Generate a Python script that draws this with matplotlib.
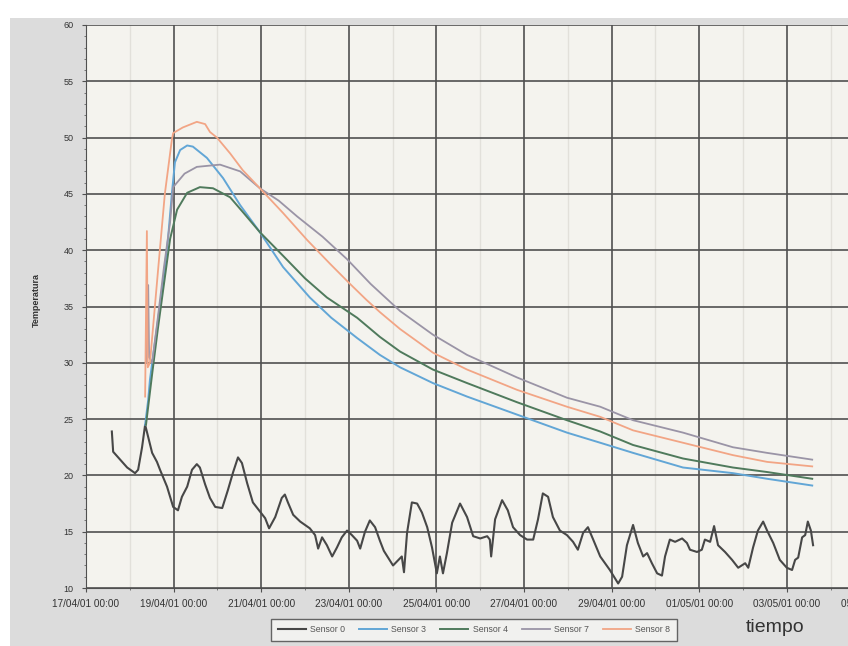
import pandas as pd
import matplotlib
matplotlib.use("Agg")
import matplotlib.pyplot as plt
import matplotlib.dates as mdates
from matplotlib.patches import Rectangle
from matplotlib.ticker import MultipleLocator

plt.rcParams['font.family'] = ['Liberation Sans', 'DejaVu Sans']

START = pd.Timestamp("2001-04-17 00:00")

# days since 17/04/01 00:00, temperature
s0_days = [0.59, 0.62, 0.78, 0.94, 1.12, 1.19, 1.28, 1.35, 1.42, 1.51, 1.62, 1.69, 1.85, 1.99,
           2.10, 2.19, 2.31, 2.42, 2.53, 2.60, 2.72, 2.83, 2.95, 3.11, 3.24, 3.36, 3.47, 3.56,
           3.68, 3.81, 3.97, 4.09, 4.18, 4.32, 4.47, 4.54, 4.61, 4.73, 4.89, 5.00, 5.11, 5.23,
           5.30, 5.39, 5.50, 5.62, 5.73, 5.84, 5.96, 6.07, 6.19, 6.26, 6.37, 6.48, 6.60, 6.71,
           6.80, 7.01, 7.21, 7.26, 7.33, 7.44, 7.56, 7.67, 7.79, 7.90, 8.01, 8.08, 8.15, 8.24,
           8.36, 8.54, 8.70, 8.84, 9.00, 9.16, 9.22, 9.25, 9.34, 9.50, 9.63, 9.75, 9.91, 10.07,
           10.21, 10.32, 10.43, 10.55, 10.66, 10.82, 10.98, 11.12, 11.23, 11.35, 11.46, 11.58,
           11.74, 11.96, 12.15, 12.24, 12.35, 12.49, 12.60, 12.72, 12.81, 12.92, 13.04, 13.15,
           13.22, 13.33, 13.45, 13.61, 13.72, 13.79, 13.95, 14.06, 14.13, 14.25, 14.34, 14.43,
           14.59, 14.75, 14.89, 15.05, 15.12, 15.23, 15.34, 15.46, 15.55, 15.69, 15.84, 16.00,
           16.12, 16.19, 16.26, 16.35, 16.42, 16.48, 16.55, 16.60]
s0_temp = [23.9, 22.1, 21.4, 20.7, 20.2, 20.5, 22.5, 24.5, 23.4, 22.0, 21.2, 20.5, 19.0, 17.2,
           16.9, 18.1, 19.0, 20.5, 21.0, 20.7, 19.2, 18.0, 17.2, 17.1, 18.7, 20.3, 21.6, 21.1,
           19.3, 17.6, 16.8, 16.2, 15.3, 16.3, 18.0, 18.3, 17.6, 16.5, 15.9, 15.6, 15.3, 14.7,
           13.5, 14.5, 13.8, 12.8, 13.6, 14.5, 15.1, 14.7, 14.2, 13.5, 15.0, 16.0, 15.4, 14.2,
           13.3, 12.0, 12.8, 11.4, 14.9, 17.6, 17.5, 16.7, 15.4, 13.6, 11.3, 12.8, 11.3, 13.1,
           15.8, 17.5, 16.3, 14.6, 14.4, 14.6, 14.3, 12.8, 16.1, 17.8, 16.9, 15.4, 14.7, 14.3,
           14.3, 16.1, 18.4, 18.1, 16.3, 15.1, 14.7, 14.1, 13.4, 14.9, 15.4, 14.3,
           12.8, 11.6, 10.4, 11.0, 13.8, 15.6, 14.0, 12.8, 13.1, 12.2, 11.3, 11.1,
           12.8, 14.3, 14.1, 14.4, 14.0, 13.4, 13.2, 13.4, 14.3, 14.1, 15.5, 13.8,
           13.2, 12.5, 11.8, 12.2, 11.8, 13.6, 15.1, 15.9, 15.1, 14.0, 12.5, 11.8,
           11.6, 12.5, 12.7, 14.5, 14.7, 15.9, 15.1, 13.8]

s3_days = [1.35, 1.42, 1.46, 1.58, 1.74, 1.87, 1.96, 2.03, 2.15, 2.31, 2.44, 2.76, 3.13, 3.52,
           3.97, 4.50, 5.11, 5.60, 6.19, 6.71, 7.17, 7.92, 8.70, 9.84, 10.98, 11.74, 12.49,
           13.63, 14.77, 15.55, 16.58]
s3_temp = [24.5, 26.7, 28.5, 32.0, 36.5, 40.9, 45.0, 47.8, 48.9, 49.3, 49.2, 48.2, 46.4, 44.0,
           41.6, 38.5, 35.8, 34.0, 32.2, 30.7, 29.6, 28.2, 27.0, 25.4, 23.8, 22.9, 22.0,
           20.7, 20.2, 19.7, 19.1]

s4_days = [1.37, 1.51, 1.64, 1.78, 1.92, 2.08, 2.31, 2.60, 2.90, 3.29, 3.60, 3.97, 4.50, 5.00,
           5.50, 6.19, 6.71, 7.17, 7.92, 8.70, 9.84, 10.98, 11.74, 12.49, 13.63, 14.77, 15.55,
           16.58]
s4_temp = [24.5, 29.0, 33.0, 37.0, 41.0, 43.6, 45.1, 45.6, 45.5, 44.7, 43.3, 41.6, 39.5, 37.5,
           35.8, 34.0, 32.3, 31.0, 29.4, 28.2, 26.5, 24.9, 23.9, 22.7, 21.5, 20.7, 20.3,
           19.7]

s7_days = [1.37, 1.42, 1.44, 1.51, 1.64, 1.78, 1.92, 1.99, 2.25, 2.53, 3.06, 3.52, 3.97, 4.40,
           4.82, 5.40, 5.96, 6.50, 7.17, 7.92, 8.70, 9.84, 10.98, 11.74, 12.49, 13.63, 14.77,
           15.55, 16.58]
s7_temp = [30.0, 36.9, 30.5, 30.0, 34.0, 38.5, 42.5, 45.6, 46.8, 47.4, 47.6, 47.0, 45.5, 44.4,
           43.0, 41.2, 39.2, 37.0, 34.6, 32.5, 30.7, 28.7, 26.9, 26.1, 24.9, 23.8, 22.5,
           22.0, 21.4]

s8_days = [1.35, 1.39, 1.41, 1.46, 1.64, 1.80, 1.96, 1.99, 2.21, 2.53, 2.72, 2.83, 2.99, 3.29,
           3.58, 3.97, 4.50, 5.05, 5.57, 6.03, 6.40, 6.71, 7.17, 7.92, 8.70, 9.84, 10.98, 11.74,
           12.49, 13.63, 14.77, 15.55, 16.58]
s8_temp = [27.0, 41.7, 29.6, 30.0, 38.0, 45.0, 49.8, 50.4, 50.9, 51.4, 51.2, 50.5, 50.0, 48.6,
           47.1, 45.5, 43.3, 40.9, 38.8, 37.0, 35.6, 34.5, 33.0, 30.9, 29.4, 27.6, 26.1, 25.2,
           24.0, 22.9, 21.8, 21.2, 20.8]

labels = ["Sensor 0", "Sensor 3", "Sensor 4", "Sensor 7", "Sensor 8"]
colors = ["#474747", "#62a6d6", "#4f7a5c", "#9a94a6", "#f2a585"]


def to_dates(days):
    return START + pd.to_timedelta(days, unit="D")


W, H = 848, 646
fig = plt.figure(figsize=(W / 100, H / 100), dpi=100, facecolor="white")
fig.patches.append(Rectangle((10 / W, 0), 1, 1 - 18 / H, transform=fig.transFigure,
                             facecolor="#dcdcdc", edgecolor="none", zorder=-10))

left, top, bottom = 86 / W, 1 - 25 / H, 1 - 588 / H
px_per_day = 43.8
xmax = 18.5
ax = fig.add_axes([left, bottom, xmax * px_per_day / W, top - bottom])
ax.set_facecolor("#f4f3ee")

series = [(s0_days, s0_temp), (s3_days, s3_temp), (s4_days, s4_temp),
          (s7_days, s7_temp), (s8_days, s8_temp)]
widths = [1.5, 1.4, 1.4, 1.3, 1.3]
for (d, t), lab, c, lw in zip(series, labels, colors, widths):
    ax.plot(to_dates(d), t, color=c, lw=lw, label=lab, zorder=3)

ax.set_ylim(10, 60)
ax.set_xlim(START, START + pd.Timedelta(days=xmax))
ax.yaxis.set_major_locator(MultipleLocator(5))
ax.yaxis.set_minor_locator(MultipleLocator(1))
ax.set_xticks(pd.date_range(START, periods=10, freq="2D"))
ax.set_xticks(pd.date_range(START + pd.Timedelta(days=1), periods=9, freq="2D"), minor=True)
ax.xaxis.set_major_formatter(mdates.DateFormatter("%d/%m/%y %H:%M"))

ax.grid(which="major", color="#505050", lw=1.2, zorder=1)
ax.grid(which="minor", axis="x", color="#e2e0da", lw=1.0, zorder=0)
for s in ["top", "right"]:
    ax.spines[s].set_visible(False)
ax.spines["left"].set_color("#505050")
ax.spines["bottom"].set_color("#505050")
ax.tick_params(axis="both", which="major", length=3, color="#505050",
               labelcolor="#333333")
ax.tick_params(axis="x", labelsize=7.2, pad=5)
ax.tick_params(axis="y", labelsize=6.5, pad=6)
ax.tick_params(axis="both", which="minor", length=1.5, color="#666666")

fig.text(36 / W, 1 - 300 / H, "Temperatura", rotation=90, ha="center", va="center",
         fontsize=6.5, fontweight="bold", color="#333333")

leg = fig.legend(loc="center", bbox_to_anchor=(474 / W, 1 - 630 / H), ncol=5, fontsize=6.3,
                 frameon=True, fancybox=False, handlelength=3.2, columnspacing=1.6,
                 handletextpad=0.5, borderpad=0.7)
leg.get_frame().set_edgecolor("#444444")
leg.get_frame().set_linewidth(1.0)
leg.get_frame().set_facecolor("#f7f7f4")
for txt in leg.get_texts():
    txt.set_color("#555555")

fig.text(775 / W, 1 - 628 / H, "tiempo", ha="center", va="center", fontsize=14,
         color="#333333")

fig.savefig("out.png", dpi=100, facecolor=fig.get_facecolor())
